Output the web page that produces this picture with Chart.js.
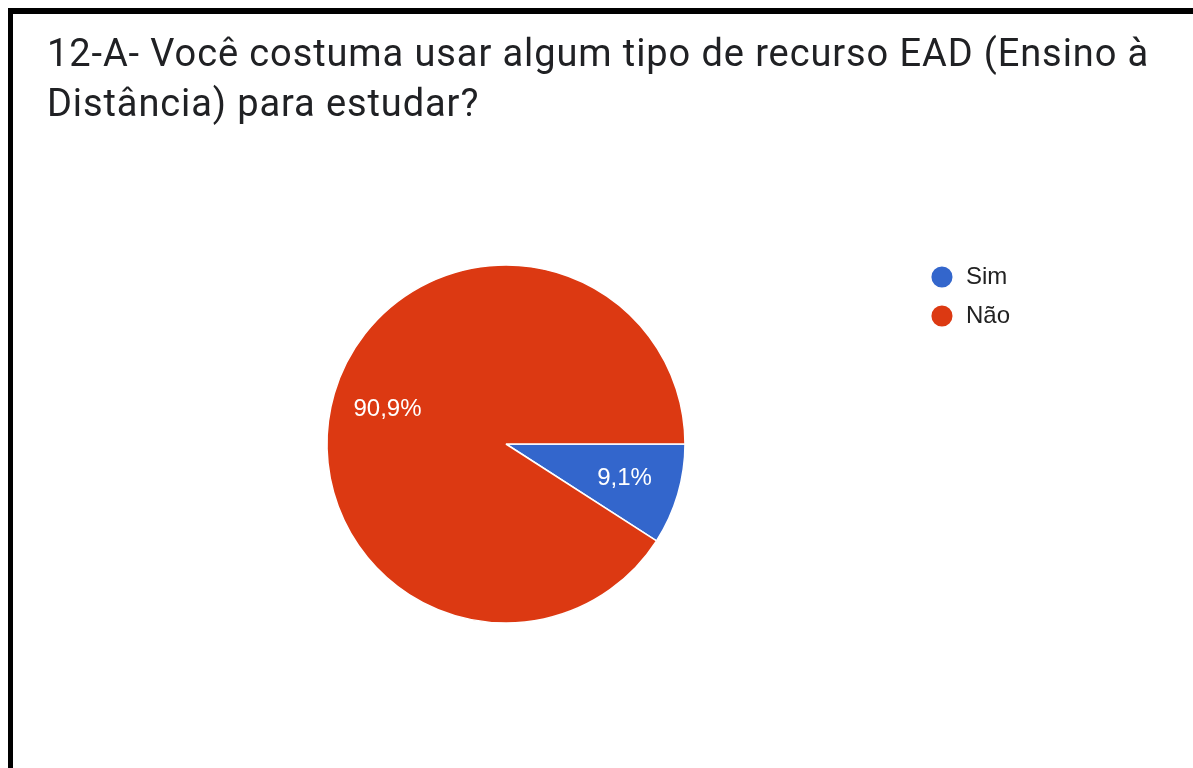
<!DOCTYPE html>
<html lang="pt-BR">
<head>
<meta charset="utf-8">
<title>12-A- Você costuma usar algum tipo de recurso EAD</title>
<script src="https://cdn.jsdelivr.net/npm/chart.js@4/dist/chart.umd.min.js"></script>
<style>
  html, body { margin: 0; padding: 0; background: #fff; overflow: hidden; }
  #page { position: relative; width: 1193px; height: 768px; overflow: hidden; background: #fff; }
  #frame {
    position: absolute; left: 8px; top: 8px; width: 1300px; height: 900px;
    border-top: 6px solid #000; border-left: 5px solid #000; pointer-events: none; z-index: 3;
  }
  #title {
    position: absolute; left: 47px; top: 28px; z-index: 2;
    font-family: Roboto, "Noto Sans", sans-serif; font-size: 38px; line-height: 50px;
    letter-spacing: 0.9px; color: #202124; white-space: nowrap;
  }
  #chartBox { position: absolute; left: 0; top: 0; width: 1193px; height: 768px; z-index: 1; }
</style>
</head>
<body>
<div id="page">
  <div id="chartBox"><canvas id="pieChart"></canvas></div>
  <div id="title">12-A- Você costuma usar algum tipo de recurso EAD (Ensino à<br>Distância) para estudar?</div>
  <div id="frame"></div>
</div>
<script>
const CATEGORIES = ['Sim', 'Não'];
const PERCENTAGES = [9.1, 90.9];
const SLICE_COLORS = ['#3366CC', '#DC3912'];

// percentage labels inside the slices, like the Google Forms chart
const sliceLabels = {
  id: 'sliceLabels',
  afterDatasetsDraw(chart) {
    const ctx = chart.ctx;
    const meta = chart.getDatasetMeta(0);
    const values = chart.data.datasets[0].data;
    const total = values.reduce((a, b) => a + b, 0);
    ctx.save();
    ctx.fillStyle = '#ffffff';
    ctx.font = '24px "Liberation Sans", Arial, sans-serif';
    ctx.textAlign = 'center';
    ctx.textBaseline = 'middle';
    meta.data.forEach((arc, i) => {
      const p = arc.getProps(['x', 'y', 'startAngle', 'endAngle', 'outerRadius'], true);
      const mid = (p.startAngle + p.endAngle) / 2;
      const r = p.outerRadius * 0.69;
      const txt = (values[i] / total * 100).toFixed(1).replace('.', ',') + '%';
      ctx.fillText(txt, p.x + Math.cos(mid) * r, p.y + Math.sin(mid) * r);
    });
    ctx.restore();
  }
};

const ctx = document.getElementById('pieChart').getContext('2d');
const chart = new Chart(ctx, {
  type: 'pie',
  data: {
    labels: CATEGORIES,
    datasets: [{
      data: PERCENTAGES,
      backgroundColor: SLICE_COLORS,
      borderColor: '#ffffff',
      borderWidth: 1.5
    }]
  },
  options: {
    responsive: true,
    maintainAspectRatio: false,
    animation: false,
    rotation: 90,
    radius: 179,
    layout: { padding: { top: 250, bottom: 130, left: 97, right: 173 } },
    plugins: {
      tooltip: { enabled: false },
      legend: {
        position: 'right',
        align: 'start',
        labels: {
          usePointStyle: true,
          pointStyle: 'circle',
          boxHeight: 16,
          padding: 15,
          color: '#222222',
          font: { family: '"Liberation Sans", Arial, sans-serif', size: 24 }
        }
      }
    }
  },
  plugins: [sliceLabels]
});
</script>
</body>
</html>
